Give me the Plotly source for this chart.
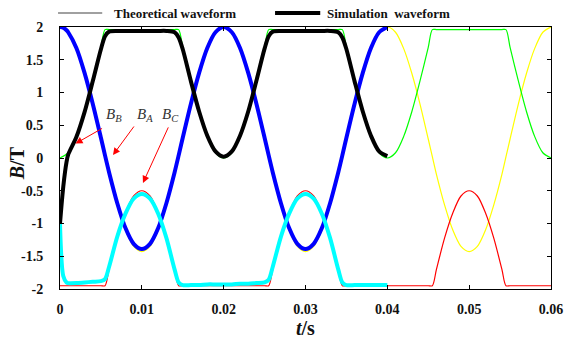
import plotly.graph_objects as go

# ---------------- data ----------------
t_theory = [
    0.000, 0.001, 0.002, 0.003, 0.004, 0.005, 0.0055, 0.006, 0.007, 0.008, 0.009,
    0.010, 0.011, 0.012, 0.013, 0.014, 0.0145, 0.015, 0.016, 0.017, 0.018, 0.019,
    0.020, 0.021, 0.022, 0.023, 0.024, 0.025, 0.0255, 0.026, 0.027, 0.028, 0.029,
    0.030, 0.031, 0.032, 0.033, 0.034, 0.0345, 0.035, 0.036, 0.037, 0.038, 0.039,
    0.040, 0.041, 0.042, 0.043, 0.044, 0.045, 0.0455, 0.046, 0.047, 0.048, 0.049,
    0.050, 0.051, 0.052, 0.053, 0.054, 0.0545, 0.055, 0.056, 0.057, 0.058, 0.059,
    0.060,
]
BA_theory = [
    2.00, 1.92, 1.67, 1.29, 0.82, 0.29, 0.02, -0.25, -0.72, -1.10, -1.35,
    -1.43, -1.35, -1.10, -0.72, -0.25, 0.02, 0.29, 0.82, 1.29, 1.67, 1.92,
    2.00, 1.92, 1.67, 1.29, 0.82, 0.29, 0.02, -0.25, -0.72, -1.10, -1.35,
    -1.43, -1.35, -1.10, -0.72, -0.25, 0.02, 0.29, 0.82, 1.29, 1.67, 1.92,
    2.00, 1.92, 1.67, 1.29, 0.82, 0.29, 0.02, -0.25, -0.72, -1.10, -1.35,
    -1.43, -1.35, -1.10, -0.72, -0.25, 0.02, 0.29, 0.82, 1.29, 1.67, 1.92,
    2.00,
]
BB_theory = [
    0.00, 0.08, 0.33, 0.71, 1.18, 1.69, 1.96, 1.96, 1.96, 1.96, 1.96,
    1.96, 1.96, 1.96, 1.96, 1.96, 1.96, 1.69, 1.18, 0.71, 0.33, 0.08,
    0.00, 0.08, 0.33, 0.71, 1.18, 1.69, 1.96, 1.96, 1.96, 1.96, 1.96,
    1.96, 1.96, 1.96, 1.96, 1.96, 1.96, 1.69, 1.18, 0.71, 0.33, 0.08,
    0.00, 0.08, 0.33, 0.71, 1.18, 1.69, 1.96, 1.96, 1.96, 1.96, 1.96,
    1.96, 1.96, 1.96, 1.96, 1.96, 1.96, 1.69, 1.18, 0.71, 0.33, 0.08,
    0.00,
]
BC_theory = [
    -1.95, -1.95, -1.95, -1.95, -1.95, -1.95, -1.95, -1.70, -1.22, -0.84, -0.58,
    -0.50, -0.58, -0.84, -1.22, -1.70, -1.95, -1.95, -1.95, -1.95, -1.95, -1.95,
    -1.95, -1.95, -1.95, -1.95, -1.95, -1.95, -1.95, -1.70, -1.22, -0.84, -0.58,
    -0.50, -0.58, -0.84, -1.22, -1.70, -1.95, -1.95, -1.95, -1.95, -1.95, -1.95,
    -1.95, -1.95, -1.95, -1.95, -1.95, -1.95, -1.95, -1.70, -1.22, -0.84, -0.58,
    -0.50, -0.58, -0.84, -1.22, -1.70, -1.95, -1.95, -1.95, -1.95, -1.95, -1.95,
    -1.95,
]

t_sim = [
    0.000, 0.0004, 0.0008, 0.001, 0.002, 0.003, 0.004, 0.005, 0.0055, 0.006, 0.007,
    0.008, 0.009, 0.010, 0.011, 0.012, 0.013, 0.014, 0.0145, 0.015, 0.016, 0.017,
    0.018, 0.019, 0.020, 0.021, 0.022, 0.023, 0.024, 0.025, 0.0255, 0.026, 0.027,
    0.028, 0.029, 0.030, 0.031, 0.032, 0.033, 0.034, 0.0345, 0.035, 0.036, 0.037,
    0.038, 0.039, 0.040,
]
BA_sim = [
    2.00, 1.99, 1.95, 1.92, 1.68, 1.30, 0.83, 0.31, 0.04, -0.22, -0.69,
    -1.07, -1.31, -1.39, -1.31, -1.07, -0.69, -0.22, 0.04, 0.31, 0.83, 1.30,
    1.68, 1.92, 2.00, 1.92, 1.68, 1.30, 0.83, 0.31, 0.04, -0.22, -0.69,
    -1.07, -1.31, -1.39, -1.31, -1.07, -0.69, -0.22, 0.04, 0.31, 0.83, 1.30,
    1.68, 1.92, 2.00,
]
BB_sim = [
    -1.00, -0.44, -0.06, 0.05, 0.32, 0.70, 1.17, 1.66, 1.86, 1.93, 1.94,
    1.94, 1.94, 1.94, 1.94, 1.94, 1.94, 1.92, 1.84, 1.66, 1.17, 0.71,
    0.34, 0.10, 0.02, 0.10, 0.34, 0.71, 1.18, 1.67, 1.86, 1.93, 1.94,
    1.94, 1.94, 1.94, 1.94, 1.94, 1.94, 1.92, 1.84, 1.66, 1.17, 0.71,
    0.34, 0.10, 0.03,
]
BC_sim = [
    -1.00, -1.80, -1.90, -1.91, -1.91, -1.90, -1.89, -1.88, -1.85, -1.66, -1.20,
    -0.85, -0.62, -0.55, -0.62, -0.85, -1.22, -1.70, -1.90, -1.94, -1.94, -1.94,
    -1.93, -1.93, -1.93, -1.93, -1.92, -1.92, -1.91, -1.90, -1.86, -1.66, -1.20,
    -0.85, -0.62, -0.55, -0.62, -0.85, -1.22, -1.70, -1.90, -1.94, -1.94, -1.94,
    -1.94, -1.94, -1.94,
]

x_ticks = [0, 0.01, 0.02, 0.03, 0.04, 0.05, 0.06]
x_ticktext = ["0", "0.01", "0.02", "0.03", "0.04", "0.05", "0.06"]
y_ticks = [2, 1.5, 1, 0.5, 0, -0.5, -1, -1.5, -2]
y_ticktext = ["2", "1.5", "1", "0.5", "0", "-0.5", "-1", "-1.5", "-2"]

legend_labels = ["Theoretical waveform", "Simulation\u00a0\u00a0waveform"]

# ---------------- figure ----------------
SERIF = "Liberation Serif, Times New Roman, serif"
TXT = "#111"
fig = go.Figure()

theory = [(BA_theory, "#FFFF00"), (BB_theory, "#00FF00"), (BC_theory, "#FF0000")]
for ys, col in theory:
    fig.add_trace(go.Scatter(x=t_theory, y=ys, mode="lines",
                             line=dict(color=col, width=1.2, shape="spline", smoothing=0.8),
                             showlegend=False, hoverinfo="skip"))

sim = [(BA_sim, "#0000FF"), (BB_sim, "#000000"), (BC_sim, "#00FFFF")]
for ys, col in sim:
    fig.add_trace(go.Scatter(x=t_sim, y=ys, mode="lines",
                             line=dict(color=col, width=4, shape="spline", smoothing=0.8),
                             showlegend=False, hoverinfo="skip"))

axis_common = dict(
    showline=True, linecolor="black", linewidth=1, mirror="ticks", automargin=False,
    ticks="inside", ticklen=4, tickcolor="black", showgrid=False, zeroline=False,
    tickfont=dict(family=SERIF, size=14, color=TXT, weight="bold"),
)
fig.update_xaxes(range=[0, 0.06], tickvals=x_ticks, ticktext=x_ticktext,
                 ticklabelstandoff=7, **axis_common)
fig.update_yaxes(range=[-2, 2], tickvals=y_ticks, ticktext=y_ticktext,
                 ticklabelstandoff=13, **axis_common)

# legend drawn as shapes + text
fig.add_shape(type="line", xref="paper", yref="paper", x0=-0.004, x1=0.086,
              y0=1.0534, y1=1.0534, line=dict(color="#808080", width=1.5))
fig.add_shape(type="line", xref="paper", yref="paper", x0=0.438, x1=0.530,
              y0=1.0534, y1=1.0534, line=dict(color="#000000", width=4))
fig.add_annotation(xref="paper", yref="paper", x=0.106, y=1.0534, xanchor="left",
                   yanchor="middle", text="<b>" + legend_labels[0] + "</b>", showarrow=False,
                   font=dict(family=SERIF, size=13, color=TXT))
fig.add_annotation(xref="paper", yref="paper", x=0.540, y=1.0534, xanchor="left",
                   yanchor="middle", text="<b>" + legend_labels[1] + "</b>", showarrow=False,
                   font=dict(family=SERIF, size=13, color=TXT))

# axis titles
fig.add_annotation(xref="paper", yref="paper", x=0.5, y=-0.15, xanchor="center",
                   yanchor="middle", text="<b><i>t</i>/s</b>", showarrow=False,
                   font=dict(family=SERIF, size=20, color=TXT))
fig.add_annotation(xref="paper", yref="paper", x=-0.0876, y=0.48, xanchor="center",
                   yanchor="middle", text="<b><i>B</i>/T</b>", showarrow=False,
                   textangle=-90, font=dict(family=SERIF, size=20, color=TXT))

# curve labels
labels = [("B", 0.110), ("A", 0.173), ("C", 0.226)]
for sub, px in labels:
    fig.add_annotation(xref="paper", yref="paper", x=px, y=0.665, xanchor="center",
                       yanchor="middle", text="<i>B</i><sub><i>" + sub + "</i></sub>",
                       showarrow=False, font=dict(family=SERIF, size=15, color="#333"))

# arrows (head at curve point, tail offset in pixels)
arrows = [(0.0019, 0.22, 28, -16), (0.00648, 0.046, 22, -30), (0.01014, -0.38, 26, -57)]
for ax_, ay_, dx, dy in arrows:
    fig.add_annotation(x=ax_, y=ay_, xref="x", yref="y", text="", showarrow=True,
                       ax=dx, ay=dy, arrowhead=2, arrowsize=1.4, arrowwidth=1,
                       arrowcolor="#FF0000", standoff=0)

fig.update_layout(width=564, height=339, margin=dict(l=60, r=13, t=27, b=50, autoexpand=False),
                  plot_bgcolor="white", paper_bgcolor="white", showlegend=False)

fig.write_html("out.html")
